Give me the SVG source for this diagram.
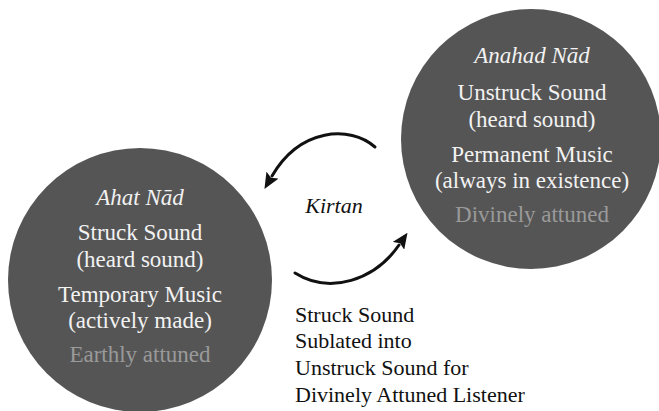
<svg xmlns="http://www.w3.org/2000/svg" width="659" height="411" viewBox="0 0 659 411">
<style>
.c{fill:#555555}
.t{font-size:23px;fill:#f2f2f2;text-anchor:middle}
.ti{font-style:italic}
.g{fill:#9a9a9a}
.k{font-size:22px;fill:#111}
.arr{fill:none;stroke:#111;stroke-width:3;stroke-linecap:round}
</style>
<defs>
<marker id="ah" viewBox="0 0 16 14" refX="1" refY="7" markerWidth="16" markerHeight="14" markerUnits="userSpaceOnUse" orient="auto">
<path d="M0,0 L16,7 L0,14 L3,7 z" fill="#111"/>
</marker>
</defs>
<rect width="659" height="411" fill="#ffffff"/>
<g id="ahat" font-family="Liberation Serif, DejaVu Serif, serif">
<circle class="c" cx="140" cy="280" r="132"/>
<text class="t ti" x="140" y="205">Ahat Nād</text>
<text class="t" x="140" y="240">Struck Sound</text>
<text class="t" x="140" y="267">(heard sound)</text>
<text class="t" x="140" y="302">Temporary Music</text>
<text class="t" x="140" y="328">(actively made)</text>
<text class="t g" x="140" y="362">Earthly attuned</text>
</g>
<g id="anahad" font-family="Liberation Serif, DejaVu Serif, serif">
<circle class="c" cx="531" cy="139" r="130"/>
<text class="t ti" x="532" y="63">Anahad Nād</text>
<text class="t" x="532" y="100">Unstruck Sound</text>
<text class="t" x="532" y="127">(heard sound)</text>
<text class="t" x="532" y="162">Permanent Music</text>
<text class="t" x="532" y="188">(always in existence)</text>
<text class="t g" x="532" y="222">Divinely attuned</text>
</g>
<g id="connectors">
<path class="arr" d="M375,147 C350,125 300,128 272,176" marker-end="url(#ah)"/>
<path class="arr" d="M295,273 C330,295 375,280 399,245" marker-end="url(#ah)"/>
</g>
<g id="labels" font-family="Liberation Serif, DejaVu Serif, serif">
<text class="k ti" x="334" y="213" text-anchor="middle">Kirtan</text>
<text class="k" x="295" y="322">Struck Sound</text>
<text class="k" x="295" y="348">Sublated into</text>
<text class="k" x="295" y="375">Unstruck Sound for</text>
<text class="k" x="295" y="402">Divinely Attuned Listener</text>
</g>
</svg>
